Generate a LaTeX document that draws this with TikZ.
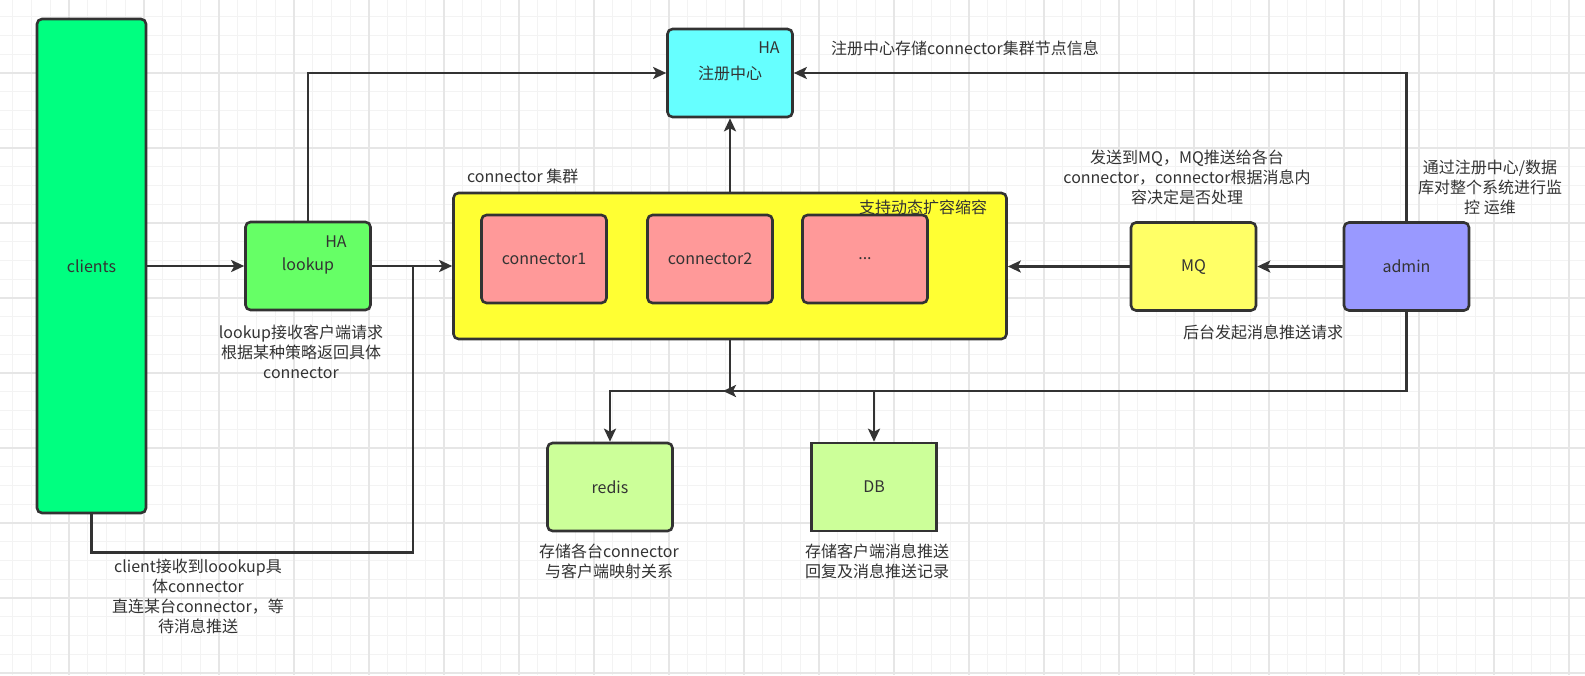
\documentclass[tikz,border=0pt]{standalone}
\usepackage{fontspec}
\setmainfont{Noto Sans CJK SC}
\usetikzlibrary{arrows.meta}
\definecolor{linec}{HTML}{333333}
\definecolor{gridminor}{HTML}{F3F3F3}
\definecolor{gridmajor}{HTML}{E6E6E6}
\definecolor{clientfill}{HTML}{00FF80}
\definecolor{lookupfill}{HTML}{66FF66}
\definecolor{regfill}{HTML}{66FFFF}
\definecolor{clusterfill}{HTML}{FFFF33}
\definecolor{connfill}{HTML}{FF9999}
\definecolor{mqfill}{HTML}{FFFF66}
\definecolor{adminfill}{HTML}{9999FF}
\definecolor{storefill}{HTML}{CCFF99}
\tikzset{
  box/.style={draw=linec, line width=2.6pt, rounded corners=5pt, inner sep=0pt,
    minimum width=125pt, minimum height=88pt, text=linec},
  note/.style={text=linec, align=center, inner sep=0pt},
  arr/.style={draw=linec, line width=2.4pt, -{Stealth[length=13pt, width=12pt, inset=3pt]}},
  wire/.style={draw=linec, line width=2.4pt}
}
\begin{document}
\begin{tikzpicture}[x=1pt, y=-1pt, font=\fontsize{16}{20}\selectfont]
    \useasboundingbox (0,0) rectangle (1585,675);
    % grid
    \fill[white] (0,0) rectangle (1585,675);
    \foreach \x in {12.75,31.5,...,1585} \draw[gridminor, line width=1pt] (\x,0) -- (\x,675);
    \foreach \y in {16.75,35.5,...,675} \draw[gridminor, line width=1pt] (0,\y) -- (1585,\y);
    \foreach \x in {69,144,...,1585} \draw[gridmajor, line width=1.2pt] (\x,0) -- (\x,675);
    \foreach \y in {73,148,...,675} \draw[gridmajor, line width=1.2pt] (0,\y) -- (1585,\y);

    % boxes
    \node[box, fill=clientfill, minimum width=109pt, minimum height=494pt] (clients) at (91.5,266) {clients};
    \node[box, fill=lookupfill] (lookup) at (308,266) {lookup};
    \node[text=linec] (lookupHA) at (336,242) {HA};
    \node[box, fill=regfill] (reg) at (730,73) {注册中心};
    \node[text=linec] (regHA) at (769,48) {HA};
    \node[box, fill=clusterfill, minimum width=553pt, minimum height=146pt] (cluster) at (730,266) {};
    \node[box, fill=connfill] (conn1) at (544,259) {connector1};
    \node[box, fill=connfill] (conn2) at (710,259) {connector2};
    \node[box, fill=connfill] (conn3) at (865,259) {...};
    \node[box, fill=mqfill] (mq) at (1193.5,266.5) {MQ};
    \node[box, fill=adminfill] (admin) at (1406.5,266.5) {admin};
    \node[box, fill=storefill] (redis) at (610,487) {redis};
    \node[box, fill=storefill, rounded corners=0pt] (db) at (874,487) {DB};

    % connectors
    \coordinate (back) at (413,266);
    \coordinate (bus) at (730,391);
    \draw[arr] (clients) -- (lookup);
    \draw[arr] (lookup) -- (cluster);
    \draw[wire] (clients.south) -- ++(0,38) -| (back);
    \draw[arr] (lookup.north) |- (reg.west);
    \draw[arr] (cluster.north) -- (reg.south);
    \draw[arr] (admin.north) |- (reg.east);
    \draw[arr] (admin) -- (mq);
    \draw[arr] (mq.west) -- (mq.west -| cluster.east);
    \draw[arr] (cluster.south) -- (bus) -| (redis.north);
    \draw[arr] (bus) -| (db.north);
    \draw[arr, shorten >=-7pt] (admin.south) |- (bus);

    % notes
    \node[note] (lookupNote) at (301,352) {lookup接收客户端请求\\根据某种策略返回具体\\connector};
    \node[note] (clientNote) at (198,596) {client接收到loookup具\\体connector\\直连某台connector，等\\待消息推送};
    \node[note] (regNote) at (965,48) {注册中心存储connector集群节点信息};
    \node[note, anchor=west] (clusterNote) at (467,176) {connector 集群};
    \node[note] (scaleNote) at (923,207) {支持动态扩容缩容};
    \node[note] (mqNote) at (1187,177) {发送到MQ，MQ推送给各台\\connector，connector根据消息内\\容决定是否处理};
    \node[note] (adminNote) at (1490,187) {通过注册中心/数据\\库对整个系统进行监\\控 运维};
    \node[note] (pushNote) at (1263,332) {后台发起消息推送请求};
    \node[note] (redisNote) at (609,561) {存储各台connector\\与客户端映射关系};
    \node[note] (dbNote) at (877,561) {存储客户端消息推送\\回复及消息推送记录};
\end{tikzpicture}
\end{document}
